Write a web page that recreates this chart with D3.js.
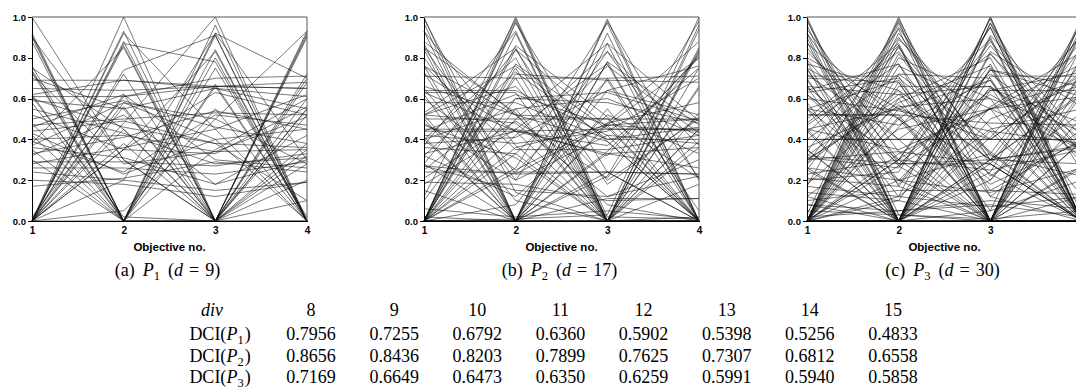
<!DOCTYPE html>
<html>
<head>
<meta charset="utf-8">
<script src="https://cdn.jsdelivr.net/npm/d3@7"></script>
<style>
body { margin: 0; background: #fff; }
.axis text { font-family: "Liberation Sans", Arial, sans-serif; font-weight: bold; font-size: 9.5px; fill: #000; }
.axis path, .axis line { stroke: #000; shape-rendering: crispEdges; }
.serif { font-family: "Liberation Serif", "Times New Roman", serif; font-size: 18px; fill: #000; }
</style>
</head>
<body>
<div id="chart"></div>
<script>
// objectives on the horizontal axis and y ticks
var objectives = [1, 2, 3, 4];
var yTicks = [0, 0.2, 0.4, 0.6, 0.8, 1.0];

// normalised objective values of each solution
var solP1 = [
  [0.92,0,0.91,0],[0.90,0,0.84,0],[0.73,0,0.66,0],[0.58,0,0.80,0],[0.42,0,0.67,0],
  [0.35,0,0.96,0],[0.62,0,0.75,0.02],[0.30,0,0.55,0],[1.0,0.30,0,0.55],
  [0,1.0,0,0.93],[0,0.93,0,0.91],[0,0.88,0,0.70],[0,0.86,0,0.52],[0,0.72,0,0.60],
  [0,0.56,0,0.92],[0,0.45,0,0.35],[0,0.62,0,0.28],[0,0.38,0,0.68],
  [0.91,0,0,0.72],[0.76,0,0,0.55],[0.88,0,0,0.38],[0.48,0,0,0.90],[0.61,0.02,0,0.32],
  [0,0.87,0.78,0],[0,0.74,0.91,0],[0,0.48,1.0,0],[0,0.92,0.45,0],[0,0.35,0.83,0],[0,0.58,0.40,0],
  [0.90,0.30,0,0],[0.70,0.55,0,0.10],[0,0,0.92,0.70],[0,0.05,0.50,0.93],[0.38,0.85,0,0],
  [0.69,0.69,0.66,0.68],[0.65,0.64,0.66,0.65],[0.61,0.61,0.70,0.71],[0.62,0.69,0.65,0.55],
  [0.59,0.55,0.65,0.61],[0.47,0.50,0.53,0.52],[0.44,0.49,0.38,0.36],[0.40,0.42,0.34,0.35],
  [0.36,0.31,0.18,0.30],[0.29,0.29,0.27,0.33],[0.26,0.26,0.23,0.29],[0.24,0.20,0.15,0.19],
  [0.20,0.18,0.12,0.19],[0.17,0.21,0.29,0.24],[0.33,0.41,0.54,0.45],[0.50,0.59,0.46,0.38],
  [0.55,0.43,0.28,0.31],[0.43,0.23,0.40,0.45],[0.37,0.58,0.50,0.28],[0.28,0.36,0.45,0.62],
  [0.52,0.35,0.33,0.56],[0.46,0.62,0.30,0.26],[0.39,0.24,0.52,0.47],[0.60,0.46,0.38,0.10],
  [0.72,0.28,0.34,0.51],[0.32,0.52,0.18,0.42],[0.02,0.61,0.66,0.65],[0,0.35,0.63,0.52],
  [0.75,0.45,0,0.20],[0,0.20,0.92,0.30],[0.74,0,0.35,0.60]
];

var solP2 = [
  [0.99,0.14,0,0],[0.93,0.37,0,0],[0.85,0.53,0,0],[0.71,0.70,0,0],[0.53,0.85,0,0],[0.37,0.93,0,0],[0.12,0.99,0,0],
  [0,0.97,0.24,0],[0,0.86,0.51,0],[0,0.72,0.69,0],[0,0.50,0.87,0],[0,0.26,0.97,0],[0,1.0,0.02,0.01],
  [0,0,0.98,0.20],[0,0,0.87,0.49],[0,0,0.70,0.71],[0,0,0.48,0.88],[0,0,0.22,0.98],[0,0.01,0.03,1.0],
  [0.97,0,0.24,0],[0.84,0,0.55,0],[0.62,0,0.78,0],[0.40,0,0.92,0],[0.15,0,0.99,0],
  [0,0.92,0,0.39],[0,0.75,0,0.66],[0,0.55,0,0.84],[0,0.33,0,0.94],[0,0.98,0,0.18],
  [0.93,0,0,0.36],[0.76,0,0,0.65],[0.52,0,0,0.85],[0.28,0,0,0.96],[1.0,0,0,0.02],
  [0.76,0.52,0.39,0],[0.52,0.76,0.39,0],[0.45,0.45,0.77,0],[0.64,0.64,0.42,0],[0.28,0.84,0.46,0],[0.85,0.23,0.47,0],
  [0,0.77,0.45,0.45],[0,0.42,0.83,0.37],[0,0.36,0.47,0.80],[0,0.60,0.63,0.49],[0,0.84,0.18,0.51],[0,0.24,0.69,0.68],
  [0.72,0.44,0,0.53],[0.40,0.80,0,0.45],[0.47,0.31,0,0.83],[0.63,0.63,0,0.45],
  [0.73,0,0.47,0.50],[0.41,0,0.78,0.47],[0.50,0,0.34,0.80],[0.87,0,0.33,0.36],
  [0.50,0.50,0.50,0.50],[0.63,0.44,0.45,0.45],[0.44,0.62,0.47,0.44],[0.38,0.41,0.64,0.52],
  [0.42,0.38,0.44,0.70],[0.76,0.35,0.35,0.42],[0.32,0.73,0.40,0.46],[0.36,0.33,0.76,0.43],
  [0.33,0.44,0.37,0.75],[0.58,0.58,0.40,0.40],[0.40,0.55,0.60,0.42],[0.24,0.24,0.24,0.23],
  [0.27,0.23,0.24,0.23],[0.44,0.44,0.33,0.26],[0.19,0.18,0.10,0.11],[0.60,0.25,0.48,0.58],
  [0.25,0.60,0.58,0.48],[0.52,0.66,0.20,0.50],[0.18,0.45,0.32,0.81],[0.80,0.20,0.42,0.38],
  [0.48,0.20,0.83,0.21],[0.66,0.52,0.50,0.21],[0.21,0.49,0.21,0.82],[0.27,0.15,0.12,0.30],
  [0.52,0.48,0.12,0.22],[0.32,0.12,0.52,0.33],[0.02,0,0.11,0.11],[0.06,0.02,0.05,0.01],
  [0.88,0.52,0.08,0],[0,0.08,0.64,0.76],[0.65,0.10,0,0.75],[0.10,0.70,0.70,0.05]
];

var solP3 = [
  [1.0,0.03,0,0],[0.98,0.17,0,0],[0.94,0.34,0,0],[0.87,0.50,0,0],[0.77,0.64,0,0],[0.71,0.71,0,0],
  [0.64,0.77,0,0],[0.50,0.87,0,0],[0.34,0.94,0,0],[0.17,0.98,0,0],[0.03,1.0,0,0],
  [0,0.99,0.12,0],[0,0.95,0.30,0],[0,0.89,0.46,0],[0,0.80,0.60,0],[0,0.72,0.70,0],
  [0,0.60,0.80,0],[0,0.46,0.89,0],[0,0.30,0.95,0],[0,0.12,0.99,0],
  [0,0,1.0,0.03],[0,0,0.97,0.24],[0,0,0.91,0.41],[0,0,0.83,0.56],[0,0,0.71,0.71],
  [0,0,0.56,0.83],[0,0,0.41,0.91],[0,0,0.24,0.97],[0,0,0.05,1.0],
  [0.96,0,0.28,0],[0.90,0,0.44,0],[0.75,0,0.66,0],[0.66,0,0.75,0],[0.44,0,0.90,0],[0.26,0,0.97,0],[0.08,0,1.0,0],
  [0,0.97,0,0.26],[0,0.86,0,0.51],[0,0.68,0,0.73],[0,0.51,0,0.86],[0,0.27,0,0.96],[0,0.10,0,0.99],
  [0.99,0,0,0.12],[0.92,0,0,0.39],[0.78,0,0,0.62],[0.58,0,0,0.81],[0.35,0,0,0.94],[0.12,0,0,0.99],
  [0.92,0.28,0.28,0],[0.80,0.55,0.23,0],[0.63,0.70,0.34,0],[0.48,0.83,0.28,0],[0.28,0.90,0.33,0],
  [0.55,0.47,0.69,0],[0.30,0.58,0.76,0],[0.79,0.27,0.55,0],[0.20,0.24,0.95,0],[0.62,0.18,0.77,0],
  [0,0.92,0.32,0.22],[0,0.76,0.55,0.35],[0,0.50,0.82,0.28],[0,0.30,0.88,0.37],[0,0.55,0.40,0.73],
  [0,0.33,0.55,0.77],[0,0.82,0.22,0.53],[0,0.20,0.33,0.92],[0,0.66,0.66,0.35],
  [0.83,0.40,0,0.39],[0.43,0.86,0,0.27],[0.52,0.52,0,0.68],[0.30,0.60,0,0.74],[0.74,0.20,0,0.64],[0.23,0.30,0,0.93],
  [0.88,0,0.30,0.37],[0.45,0,0.82,0.35],[0.55,0,0.50,0.67],[0.25,0,0.64,0.73],[0.70,0,0.20,0.69],[0.35,0,0.30,0.89],
  [0.72,0.40,0.40,0.40],[0.40,0.72,0.40,0.40],[0.40,0.40,0.72,0.40],[0.40,0.40,0.40,0.72],
  [0.52,0.52,0.48,0.47],[0.60,0.54,0.44,0.38],[0.36,0.56,0.60,0.44],[0.45,0.35,0.55,0.61],
  [0.85,0.30,0.25,0.35],[0.25,0.85,0.30,0.36],[0.31,0.26,0.86,0.33],[0.30,0.34,0.28,0.85],
  [0.66,0.62,0.30,0.28],[0.28,0.62,0.66,0.31],[0.32,0.28,0.64,0.64],[0.66,0.28,0.30,0.62],
  [0.62,0.30,0.62,0.35],[0.32,0.64,0.30,0.63],[0.55,0.20,0.65,0.48],[0.18,0.57,0.20,0.78],
  [0.75,0.50,0.18,0.39],[0.21,0.17,0.74,0.61],[0.47,0.77,0.15,0.40],[0.12,0.45,0.55,0.69],
  [0.69,0.12,0.45,0.55],[0.55,0.69,0.12,0.45],[0.45,0.55,0.69,0.12],[0.10,0.15,0.15,0.13],
  [0.17,0.12,0.07,0.12],[0.26,0.20,0.14,0.26],[0.08,0.05,0.10,0.06],[0.05,0.03,0.01,0.05],
  [0.02,0.05,0.08,0.02],[0.70,0.68,0.05,0.20],[0.14,0.10,0.74,0.66]
];

// sub-figure captions
var captionLetters = ["a", "b", "c"];
var problemIdx = ["1", "2", "3"];
var dims = [9, 17, 30];

// DCI table
var divs = [8, 9, 10, 11, 12, 13, 14, 15];
var dciP1 = ["0.7956", "0.7255", "0.6792", "0.6360", "0.5902", "0.5398", "0.5256", "0.4833"];
var dciP2 = ["0.8656", "0.8436", "0.8203", "0.7899", "0.7625", "0.7307", "0.6812", "0.6558"];
var dciP3 = ["0.7169", "0.6649", "0.6473", "0.6350", "0.6259", "0.5991", "0.5940", "0.5858"];

var width = 1076, height = 390;
var svg = d3.select("#chart").append("svg")
    .attr("width", width)
    .attr("height", height);

var panelLeft = [32, 424, 807];
var plotW = 275, plotTop = 17, plotBottom = 221;
var allSols = [solP1, solP2, solP3];

var y = d3.scaleLinear().domain([0, 1]).range([plotBottom, plotTop]);

allSols.forEach(function(sols, p) {
    var x = d3.scalePoint().domain(objectives).range([panelLeft[p], panelLeft[p] + plotW]);
    var g = svg.append("g");

    var line = d3.line()
        .x(function(d, i) { return x(objectives[i]); })
        .y(function(d) { return y(d); });

    g.append("g").selectAll("path")
        .data(sols)
        .enter().append("path")
        .attr("d", line)
        .attr("fill", "none")
        .attr("stroke", "#111")
        .attr("stroke-opacity", 0.8)
        .attr("stroke-width", 0.7);

    // box top/right
    g.append("path")
        .attr("d", "M" + x(1) + "," + plotTop + "H" + x(4) + "V" + plotBottom)
        .attr("fill", "none")
        .attr("stroke", "#555")
        .attr("stroke-width", 1);

    // only the objective labels that fall inside the page
    var visibleObj = objectives.filter(function(o) { return x(o) < width - 3; });
    g.append("g")
        .attr("class", "axis")
        .attr("transform", "translate(0," + plotBottom + ")")
        .call(d3.axisBottom(x).tickValues(visibleObj).tickSize(0).tickPadding(6))
        .call(function(a) { a.selectAll("text").style("font-size", "10px"); })
        .select(".domain").attr("stroke", "#777");

    g.append("g")
        .attr("class", "axis")
        .attr("transform", "translate(" + x(1) + ",0)")
        .call(d3.axisLeft(y).tickValues(yTicks).tickSize(4).tickPadding(2).tickSizeOuter(0)
            .tickFormat(d3.format(".1f")));

    g.append("text")
        .attr("x", (x(1) + x(4)) / 2)
        .attr("y", 251)
        .attr("text-anchor", "middle")
        .style("font-family", "'Liberation Sans', Arial, sans-serif")
        .style("font-weight", "bold")
        .style("font-size", "11.5px")
        .text("Objective no.");

    // caption like (a) P_1 (d = 9)
    var cap = g.append("text")
        .attr("class", "serif")
        .attr("x", (x(1) + x(4)) / 2 - 2)
        .attr("y", 276)
        .attr("text-anchor", "middle");
    cap.append("tspan").text("(" + captionLetters[p] + ")");
    cap.append("tspan").attr("dx", 8).style("font-style", "italic").text("P");
    cap.append("tspan").attr("dy", 4).style("font-size", "12.5px").text(problemIdx[p]);
    cap.append("tspan").attr("dy", -4).attr("dx", 8).text("(");
    cap.append("tspan").style("font-style", "italic").text("d");
    cap.append("tspan").attr("dx", 6).text("=");
    cap.append("tspan").attr("dx", 6).text(dims[p] + ")");
});

// table
var colX = d3.scalePoint().domain(divs).range([311, 893]);
var rowY = [316, 340, 362, 383];
var labelX = 220;

svg.append("text").attr("class", "serif")
    .attr("x", 212).attr("y", rowY[0])
    .attr("text-anchor", "middle")
    .style("font-style", "italic")
    .text("div");

svg.append("g").selectAll("text")
    .data(divs)
    .enter().append("text")
    .attr("class", "serif")
    .attr("x", function(d) { return colX(d); })
    .attr("y", rowY[0])
    .attr("text-anchor", "middle")
    .text(function(d) { return d; });

[dciP1, dciP2, dciP3].forEach(function(vals, r) {
    var lab = svg.append("text").attr("class", "serif")
        .attr("x", labelX).attr("y", rowY[r + 1])
        .attr("text-anchor", "middle");
    lab.append("tspan").text("DCI(");
    lab.append("tspan").style("font-style", "italic").text("P");
    lab.append("tspan").attr("dy", 4).style("font-size", "12.5px").text(problemIdx[r]);
    lab.append("tspan").attr("dy", -4).attr("dx", 1).text(")");

    svg.append("g").selectAll("text")
        .data(vals)
        .enter().append("text")
        .attr("class", "serif")
        .attr("x", function(d, i) { return colX(divs[i]); })
        .attr("y", rowY[r + 1])
        .attr("text-anchor", "middle")
        .text(function(d) { return d; });
});
</script>
</body>
</html>
